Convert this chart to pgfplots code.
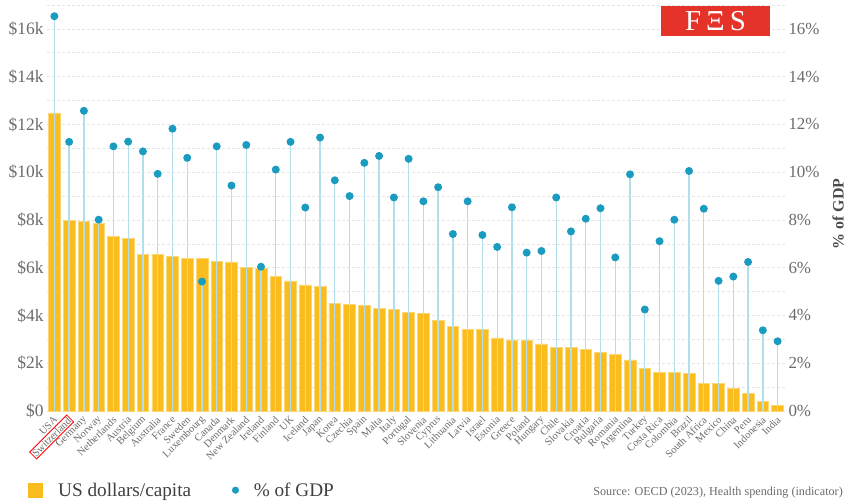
\documentclass[border=0pt]{standalone}
\usepackage{fontspec}
\setmainfont{Liberation Serif}
\usepackage{pgfplots}
\pgfplotsset{compat=1.18}
\usepackage{pgfplotstable}
\definecolor{barcol}{HTML}{FBBC1E}
\definecolor{baredge}{HTML}{FDD774}
\definecolor{dotcol}{HTML}{1A9BC0}
\definecolor{stemcol}{HTML}{B3DEEB}
\definecolor{gridcol}{HTML}{E4E4E4}
\definecolor{txtcol}{HTML}{6B6B6B}
\definecolor{fesred}{HTML}{E5332A}

\pgfplotstableread{
idx usd gdp
0 12480 16.53
1 7980 11.27
2 7950 12.57
3 7840 8.01
4 7310 11.08
5 7230 11.28
6 6560 10.87
7 6560 9.93
8 6470 11.82
9 6390 10.60
10 6390 5.42
11 6280 11.08
12 6240 9.44
13 6020 11.14
14 5990 6.04
15 5620 10.11
16 5450 11.27
17 5280 8.52
18 5210 11.45
19 4520 9.66
20 4470 9.00
21 4410 10.39
22 4290 10.68
23 4250 8.94
24 4140 10.56
25 4080 8.78
26 3810 9.37
27 3550 7.41
28 3410 8.78
29 3410 7.37
30 3060 6.87
31 2980 8.53
32 2950 6.63
33 2810 6.70
34 2670 8.94
35 2670 7.52
36 2580 8.05
37 2450 8.49
38 2370 6.43
39 2140 9.91
40 1800 4.25
41 1630 7.11
42 1630 8.01
43 1570 10.05
44 1170 8.47
45 1170 5.45
46 960 5.63
47 740 6.24
48 390 3.38
49 230 2.92
}\datatable

\begin{document}
\begin{tikzpicture}
\path[use as bounding box] (-47bp,-93bp) rectangle (799bp,411bp);
\setlength{\fboxsep}{0.8pt}\setlength{\fboxrule}{0.8pt}
\begin{axis}[
  at={(0,0)}, anchor=south west,
  scale only axis, width=738bp, height=406bp,
  xmin=-0.5, xmax=49.5, ymin=0, ymax=17000,
  axis line style={draw=none},
  tick style={draw=none},
  xtick={0,...,49},
  xticklabels={USA,{\fcolorbox{red}{white}{Switzerland}},Germany,Norway,Netherlands,Austria,Belgium,Australia,France,Sweden,Luxembourg,Canada,Denmark,{New Zealand},Ireland,Finland,UK,Iceland,Japan,Korea,Czechia,Spain,Malta,Italy,Portugal,Slovenia,Cyprus,Lithuania,Latvia,Israel,Estonia,Greece,Poland,Hungary,Chile,Slovakia,Croatia,Bulgaria,Romania,Argentina,Turkey,{Costa Rica},Colombia,Brazil,{South Africa},Mexico,China,Peru,Indonesia,India},
  xticklabel style={rotate=45, anchor=east, font=\fontsize{10.5}{10.5}\selectfont, text=txtcol, inner sep=1pt, yshift=-3bp},
  ytick={0,2000,...,16000},
  minor ytick={1000,3000,...,17000},
  yticklabels={\$0,\$2k,\$4k,\$6k,\$8k,\$10k,\$12k,\$14k,\$16k},
  yticklabel style={font=\fontsize{17.5}{17.5}\selectfont, text=txtcol},
  ymajorgrids, yminorgrids,
  major grid style={gridcol, dash pattern=on 3bp off 2bp, line width=0.6bp},
  minor grid style={gridcol, dash pattern=on 3bp off 2bp, line width=0.6bp},
  ybar, bar width=11.7bp,
]
\addplot[fill=barcol, draw=baredge, line width=0.6bp] table[x=idx,y=usd]{\datatable};
\end{axis}
\begin{axis}[
  at={(0,0)}, anchor=south west,
  scale only axis, width=738bp, height=406bp,
  xmin=-0.5, xmax=49.5, ymin=0, ymax=17,
  axis x line=none, axis y line*=right,
  axis line style={draw=none},
  tick style={draw=none},
  ytick={0,2,...,16},
  yticklabels={0\%,2\%,4\%,6\%,8\%,10\%,12\%,14\%,16\%},
  yticklabel style={font=\fontsize{17}{17}\selectfont, text=txtcol},
  ylabel={\% of GDP},
  ylabel style={at={(axis description cs:1.072,0.485)}, anchor=center, font=\bfseries\fontsize{16}{16}\selectfont, text=black!70},
  legend style={at={(axis description cs:-0.03,-0.195)}, anchor=west, draw=none, fill=none, legend columns=2, font=\fontsize{19.3}{19.3}\selectfont, text=black!75, /tikz/every even column/.append style={column sep=39bp}, /tikz/every odd column/.append style={column sep=13bp}},
]
\addplot[ycomb, stemcol, line width=1.3bp, mark=*, mark size=3.3bp, mark options={fill=dotcol, draw=dotcol}, forget plot] table[x=idx,y=gdp]{\datatable};
\addlegendimage{legend image code/.code={\fill[barcol] (0bp,-7bp) rectangle (14bp,7bp); \path[draw=none,fill=none] (0bp,0bp) -- (15bp,0bp);}}
\addlegendentry{US dollars/capita}
\addlegendimage{only marks, mark=*, mark size=3.3bp, dotcol}
\addlegendentry{\% of GDP}
\end{axis}
\node[fill=fesred, text=white, minimum width=109bp, minimum height=30bp, inner sep=0pt, font=\fontsize{29}{29}\selectfont] at (668.5bp,390bp) {F\hspace{5bp}Ξ\hspace{5bp}S};
\node[anchor=east, font=\fontsize{12.2}{12.2}\selectfont, text=txtcol, inner sep=0pt] at (796bp,-82bp) {Source: OECD (2023), Health spending (indicator)};
\end{tikzpicture}
\end{document}
